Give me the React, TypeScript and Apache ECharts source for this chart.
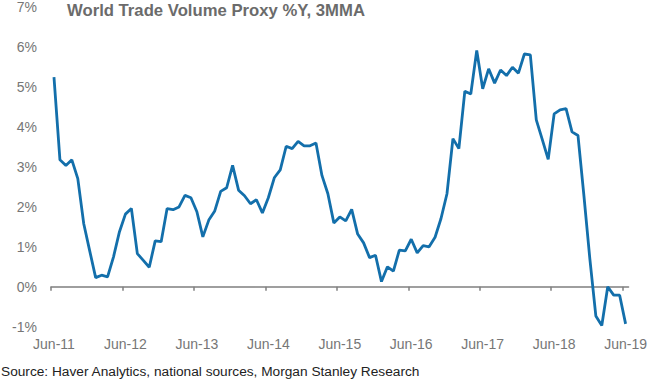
import React, { useEffect, useRef } from "react";
import * as echarts from "echarts";

const startYear = 2011;
const monthNames = ["Jan", "Feb", "Mar", "Apr", "May", "Jun", "Jul", "Aug", "Sep", "Oct", "Nov", "Dec"];

// Monthly categories Jun-11 .. Jun-19
const categories: string[] = [];
for (let i = 0; i < 97; i++) {
  const m = (5 + i) % 12;
  const y = startYear + Math.floor((5 + i) / 12);
  categories.push(`${monthNames[m]}-${String(y).slice(2)}`);
}
// Tick axis categories Jun-11 .. Jul-19
const tickCategories: string[] = [...categories, "Jul-19"];

const tradeVolume: number[] = [
  5.25, 3.18, 3.04, 3.18, 2.71, 1.58, 0.9, 0.23, 0.29, 0.25,
  0.75, 1.38, 1.82, 1.96, 0.83, 0.66, 0.49, 1.15, 1.13, 1.96,
  1.93, 2.0, 2.29, 2.23, 1.88, 1.25, 1.67, 1.9, 2.39, 2.48,
  3.04, 2.42, 2.28, 2.08, 2.18, 1.85, 2.23, 2.73, 2.93, 3.52,
  3.46, 3.64, 3.53, 3.53, 3.6, 2.79, 2.33, 1.6, 1.75, 1.65,
  1.94, 1.32, 1.1, 0.73, 0.79, 0.13, 0.5, 0.39, 0.92, 0.9,
  1.19, 0.85, 1.03, 1.0, 1.24, 1.71, 2.33, 3.71, 3.46, 4.9,
  4.83, 5.92, 4.96, 5.46, 5.1, 5.43, 5.29, 5.5, 5.35, 5.83,
  5.81, 4.18, 3.69, 3.19, 4.33, 4.43, 4.46, 3.88, 3.79, 2.28,
  0.69, -0.73, -0.97, 0.0, -0.21, -0.21, -0.93,
];

const titleText = "World Trade Volume Proxy %Y, 3MMA";
const sourceText = "Source: Haver Analytics, national sources, Morgan Stanley Research";

export default function App() {
  const ref = useRef<HTMLDivElement>(null);
  useEffect(() => {
    if (!ref.current) return;
    const chart = echarts.init(ref.current, undefined, { renderer: "svg" });
    const font = "Arial, 'Liberation Sans', sans-serif";
    chart.setOption({
      animation: false,
      backgroundColor: "#ffffff",
      title: [
        {
          text: titleText,
          left: 67,
          top: 2,
          padding: 0,
          textStyle: { fontSize: 16.7, fontWeight: "bold", color: "#6b6b6b", fontFamily: font },
        },
        {
          text: sourceText,
          left: 1,
          top: 364,
          padding: 0,
          textStyle: { fontSize: 13.7, fontWeight: "normal", color: "#222222", fontFamily: font },
        },
      ],
      grid: { left: 51, right: 20, top: 7.3, bottom: 55.3, containLabel: false },
      xAxis: [
        {
          type: "category",
          data: tickCategories,
          boundaryGap: false,
          position: "bottom",
          axisLine: { show: true, onZero: true, lineStyle: { color: "#7f7f7f", width: 1.5 } },
          axisTick: {
            show: true,
            length: 4,
            interval: (idx: number) => idx % 12 === 0,
            lineStyle: { color: "#7f7f7f", width: 1.5 },
          },
          axisLabel: { show: false },
          splitLine: { show: false },
        },
        {
          type: "category",
          data: categories,
          boundaryGap: true,
          position: "bottom",
          axisLine: { show: false, onZero: false },
          axisTick: { show: false },
          axisLabel: {
            show: true,
            interval: (idx: number) => idx % 12 === 0,
            margin: 10,
            color: "#767676",
            fontSize: 14,
            fontFamily: font,
          },
          splitLine: { show: false },
        },
      ],
      yAxis: {
        type: "value",
        min: -1,
        max: 7,
        interval: 1,
        axisLine: { show: false },
        axisTick: { show: false },
        splitLine: { show: false },
        axisLabel: {
          formatter: "{value}%",
          margin: 14,
          color: "#767676",
          fontSize: 14,
          fontFamily: font,
        },
      },
      series: [
        {
          type: "line",
          xAxisIndex: 1,
          data: tradeVolume,
          showSymbol: false,
          symbol: "none",
          lineStyle: { color: "#136fab", width: 2.8 },
          itemStyle: { color: "#136fab" },
        },
      ],
    });
    return () => chart.dispose();
  }, []);
  return (
    <div
      ref={ref}
      style={{ position: "fixed", left: 0, top: 0, width: 650, height: 382 }}
    />
  );
}
